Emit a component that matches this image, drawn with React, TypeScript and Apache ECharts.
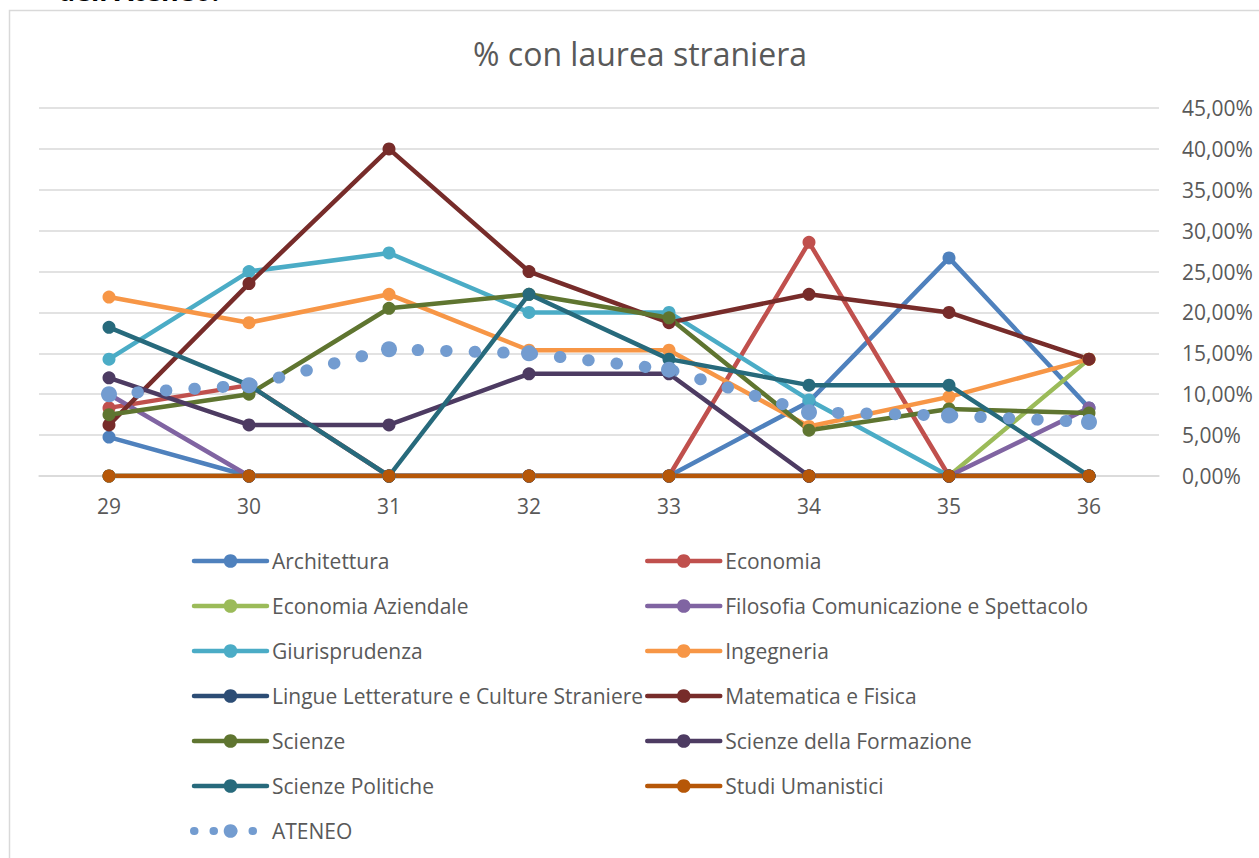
import React, { useEffect, useRef } from "react";
import * as echarts from "echarts";

const categories = ["29", "30", "31", "32", "33", "34", "35", "36"];
const yTicks = [0, 5, 10, 15, 20, 25, 30, 35, 40, 45];

const architettura = [4.76, 0, 0, 0, 0, 9.09, 26.67, 8.33];
const economia = [8.33, 11.11, 0, 0, 0, 28.57, 0, 0];
const economiaAziendale = [0, 0, 0, 0, 0, 0, 0, 14.29];
const filosofia = [10.0, 0, 0, 0, 0, 0, 0, 8.33];
const giurisprudenza = [14.29, 25.0, 27.27, 20.0, 20.0, 9.3, 0, 0];
const ingegneria = [21.88, 18.75, 22.22, 15.38, 15.38, 6.06, 9.68, 14.29];
const lingue = [0, 0, 0, 0, 0, 0, 0, 0];
const matematica = [6.25, 23.53, 40.0, 25.0, 18.75, 22.22, 20.0, 14.29];
const scienze = [7.5, 10.0, 20.51, 22.22, 19.35, 5.6, 8.2, 7.69];
const formazione = [12.0, 6.25, 6.25, 12.5, 12.5, 0, 0, 0];
const politiche = [18.18, 11.11, 0, 22.22, 14.29, 11.11, 11.11, 0];
const umanistici = [0, 0, 0, 0, 0, 0, 0, 0];
const ateneo = [10.0, 11.1, 15.5, 15.0, 13.0, 7.8, 7.4, 6.6];

const seriesDefs = [
  { name: "Architettura", data: architettura, color: "#4F81BD" },
  { name: "Economia", data: economia, color: "#C0504D" },
  { name: "Economia Aziendale", data: economiaAziendale, color: "#9BBB59" },
  { name: "Filosofia Comunicazione e Spettacolo", data: filosofia, color: "#8064A2" },
  { name: "Giurisprudenza", data: giurisprudenza, color: "#4BACC6" },
  { name: "Ingegneria", data: ingegneria, color: "#F79646" },
  { name: "Lingue Letterature e Culture Straniere", data: lingue, color: "#2C4D75" },
  { name: "Matematica e Fisica", data: matematica, color: "#772C2A" },
  { name: "Scienze", data: scienze, color: "#5F7530" },
  { name: "Scienze della Formazione", data: formazione, color: "#4D3B62" },
  { name: "Scienze Politiche", data: politiche, color: "#276A7C" },
  { name: "Studi Umanistici", data: umanistici, color: "#B65708" },
];

const legendLeft = [
  "Architettura",
  "Economia Aziendale",
  "Giurisprudenza",
  "Lingue Letterature e Culture Straniere",
  "Scienze",
  "Scienze Politiche",
  "ATENEO",
];
const legendRight = [
  "Economia",
  "Filosofia Comunicazione e Spettacolo",
  "Ingegneria",
  "Matematica e Fisica",
  "Scienze della Formazione",
  "Studi Umanistici",
];

const FONT = "'Open Sans', 'Noto Sans', sans-serif";
const TEXT = "#595959";
const ATENEO_COLOR = "#739CD0";

export default function App() {
  const ref = useRef<HTMLDivElement>(null);

  useEffect(() => {
    document.body.style.margin = "0";
    document.body.style.overflow = "hidden";
    if (!ref.current) return;
    const chart = echarts.init(ref.current, undefined, { renderer: "svg" });

    const series: any[] = seriesDefs.map((s) => ({
      name: s.name,
      type: "line",
      data: s.data,
      symbol: "circle",
      symbolSize: 13,
      lineStyle: { width: 4.5, color: s.color },
      itemStyle: { color: s.color },
      emphasis: { disabled: true },
    }));
    series.push({
      name: "ATENEO",
      type: "line",
      data: ateneo,
      symbol: "circle",
      symbolSize: 16,
      lineStyle: { width: 12, color: ATENEO_COLOR, type: [0.5, 28], cap: "round" },
      itemStyle: { color: ATENEO_COLOR },
      emphasis: { disabled: true },
    });

    const mkData = (names: string[]) =>
      names.map((n) =>
        n === "ATENEO"
          ? { name: n, lineStyle: { width: 8, type: [0.5, 19], cap: "round" } }
          : { name: n }
      );

    const legendCommon = {
      orient: "vertical",
      top: 550,
      padding: 0,
      itemWidth: 73,
      itemHeight: 17,
      itemGap: 23,
      selectedMode: false,
      lineStyle: { width: 4.5, cap: "round" },
      textStyle: { color: TEXT, fontSize: 21, fontFamily: FONT, lineHeight: 22 },
    };

    chart.setOption({
      animation: false,
      backgroundColor: "#ffffff",
      graphic: [
        {
          type: "rect",
          shape: { x: 9.5, y: 10.5, width: 1400, height: 1000 },
          style: { fill: "none", stroke: "#D9D9D9", lineWidth: 1.5 },
          silent: true,
        },
        {
          type: "text",
          x: 58,
          y: -10,
          style: {
            text: "dell'Ateneo.",
            fontSize: 27,
            fontWeight: "bold",
            fontFamily: FONT,
            fill: "#000000",
            verticalAlign: "middle",
          },
        },
        {
          type: "text",
          x: 640,
          y: 53,
          style: {
            text: "% con laurea straniera",
            fontSize: 32,
            fontFamily: FONT,
            fill: TEXT,
            align: "center",
            verticalAlign: "middle",
          },
        },
      ],
      grid: { left: 39, right: 100, top: 108, bottom: 382, containLabel: false },
      xAxis: {
        type: "category",
        data: categories,
        boundaryGap: true,
        axisLine: { show: true, lineStyle: { color: "#D9D9D9", width: 1.5 } },
        axisTick: { show: false },
        axisLabel: { color: TEXT, fontSize: 21, fontFamily: FONT, margin: 19 },
      },
      yAxis: {
        type: "value",
        position: "right",
        min: yTicks[0],
        max: yTicks[yTicks.length - 1],
        interval: 5,
        axisLine: { show: false },
        axisTick: { show: false },
        splitLine: { lineStyle: { color: "#D9D9D9", width: 1.5 } },
        axisLabel: {
          color: TEXT,
          fontSize: 21,
          fontFamily: FONT,
          margin: 23,
          formatter: (v: number) => v.toFixed(2).replace(".", ",") + "%",
        },
      },
      legend: [
        { ...legendCommon, left: 190, data: mkData(legendLeft) },
        { ...legendCommon, left: 645, data: mkData(legendRight) },
      ],
      series,
    });

    return () => chart.dispose();
  }, []);

  return <div ref={ref} style={{ width: 1259, height: 858 }} />;
}
